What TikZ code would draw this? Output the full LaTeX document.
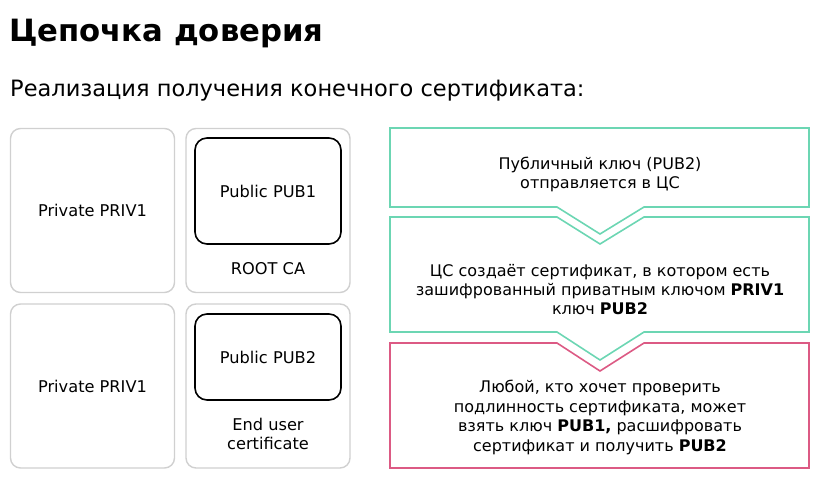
\documentclass[tikz,border=0pt]{standalone}
\usepackage{fontspec}
\setmainfont{DejaVu Sans}
\usepackage{xcolor}
\definecolor{chainmint}{HTML}{6CD6B3}
\definecolor{chainpink}{HTML}{DC5A84}
\definecolor{chaingray}{HTML}{D0D0D0}
\usetikzlibrary{positioning}
\tikzset{
  keybox/.style ={rectangle, rounded corners=10pt, draw=chaingray, line width=1.4pt,
                  minimum width=164pt, minimum height=164pt, align=center,
                  font=\fontsize{16.2}{20}\selectfont},
  pubbox/.style ={rectangle, rounded corners=12pt, draw=black, line width=1.6pt,
                  minimum width=146pt, align=center, font=\fontsize{16.2}{20}\selectfont},
  lbl/.style    ={align=center, inner sep=0pt, font=\fontsize{16.2}{19}\selectfont},
  stepline/.style={draw=chainmint, line width=1.6pt, line join=miter},
  pinkline/.style={draw=chainpink, line width=1.6pt, line join=miter},
  steptext/.style={align=center, inner sep=0pt, font=\fontsize{16}{19}\selectfont},
}

\begin{document}
\begin{tikzpicture}[x=1pt, y=-1pt]
  \useasboundingbox (0,0) rectangle (840,486);
  % titles
  \node[anchor=base west, inner sep=0pt, font=\fontsize{30.7}{36}\selectfont\bfseries] (title) at (9,42) {Цепочка доверия};
  \node[anchor=base west, inner sep=0pt, font=\fontsize{22.5}{26}\selectfont] (subtitle) at (10,97) {Реализация получения конечного сертификата:};

  % left: key pairs
  \node[keybox] (priv1) at (92.5,210.5) {Private PRIV1};
  \node[keybox] (rootca) at (268,210.5) {};
  \node[pubbox, minimum height=106pt] (pub1) at (268,191) {Public PUB1};
  \node[lbl] (rootlbl) at (268,269) {ROOT CA};

  \node[keybox] (priv1b) at (92.5,386) {Private PRIV1};
  \node[keybox] (enduser) at (268,386) {};
  \node[pubbox, minimum height=86pt] (pub2) at (268,357) {Public PUB2};
  \node[lbl] (endlbl) at (268,434) {End user\\certificate};

  % right: steps
  \draw[stepline] (390,128) -- (809,128) -- (809,207) -- (644,207) -- (600,234)
    -- (557,207) -- (390,207) -- cycle;
  \draw[stepline] (390,217) -- (557,217) -- (600,244) -- (644,217) -- (809,217)
    -- (809,332) -- (644,332) -- (600,360) -- (557,332) -- (390,332) -- cycle;
  \draw[pinkline] (390,343) -- (557,343) -- (600,371) -- (644,343) -- (809,343)
    -- (809,468) -- (390,468) -- cycle;

  \node[steptext] (s1) at (600,174) {Публичный ключ (PUB2)\\отправляется в ЦС};
  \node[steptext] (s2) at (600,290) {ЦС создаёт сертификат, в котором есть\\зашифрованный приватным ключом \textbf{PRIV1}\\ключ \textbf{PUB2}};
  \node[steptext, font=\fontsize{16}{19.6}\selectfont] (s3) at (600,417.5) {Любой, кто хочет проверить\\подлинность сертификата, может\\взять ключ \textbf{PUB1,} расшифровать\\сертификат и получить \textbf{PUB2}};
\end{tikzpicture}
\end{document}
